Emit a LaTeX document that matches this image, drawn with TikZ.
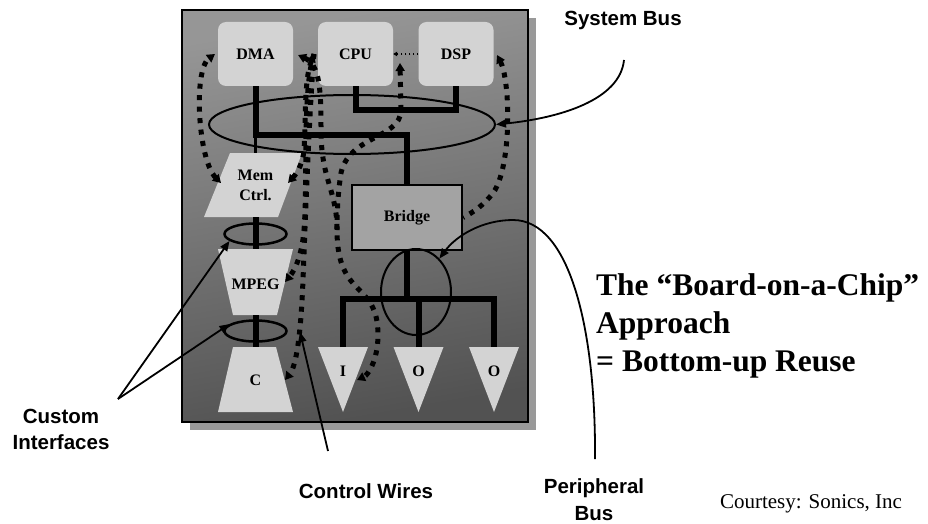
\documentclass[tikz,border=0pt]{standalone}
\usepackage{fontspec}
\newfontfamily\lsans{Liberation Sans}
\newfontfamily\lserif{Liberation Serif}
\usetikzlibrary{arrows.meta,shapes.geometric}
\definecolor{chipshadow}{RGB}{153,153,153}
\definecolor{chiptop}{RGB}{150,150,150}
\definecolor{chipmid}{RGB}{106,106,106}
\definecolor{chipbot}{RGB}{82,82,82}
\definecolor{blockfill}{RGB}{211,211,211}
\definecolor{bridgefill}{RGB}{163,163,163}
\tikzset{
  dt/.tip={Triangle[length=8pt,width=9pt]},
  nt/.tip={Triangle[length=10pt,width=8pt]},
  st/.tip={Triangle[length=4pt,width=4.5pt]}
}
\begin{document}
\begin{tikzpicture}[x=1pt,y=-1pt,
  lbl/.style={font=\lsans\bfseries\fontsize{20.5}{26}\selectfont, inner sep=0pt, align=center},
  blk/.style={fill=blockfill, inner sep=0pt, font=\lserif\bfseries\fontsize{16}{20}\selectfont},
  blktext/.style={inner sep=0pt, font=\lserif\bfseries\fontsize{16}{20}\selectfont, align=center},
  bus/.style={line width=6pt},
  ring/.style={draw, ellipse, line width=2pt, inner sep=0pt},
  ctrldot/.style={line width=5pt, dash pattern=on 5pt off 6.5pt},
  note/.style={line width=1.8pt, -nt}
]
\useasboundingbox (0,0) rectangle (928,524);

% chip
\fill[chipshadow] (190,18) rectangle (536,430);
\shade[top color=chiptop, middle color=chipmid, bottom color=chipbot, shading angle=10] (182,10) rectangle (528,422);
\draw[line width=2.5pt] (182,10) rectangle (528,422);

% top blocks
\node[blk, rounded corners=8pt, minimum width=75pt, minimum height=64pt] (dma) at (255.5,54) {DMA};
\node[blk, rounded corners=8pt, minimum width=75pt, minimum height=64pt] (cpu) at (355.5,54) {CPU};
\node[blk, rounded corners=8pt, minimum width=75pt, minimum height=64pt] (dsp) at (456,54) {DSP};

% bridge
\node[draw, line width=2pt, fill=bridgefill, minimum width=110pt, minimum height=65pt, inner sep=0pt,
      font=\lserif\bfseries\fontsize{16}{20}\selectfont] (bridge) at (407,217.5) {Bridge};

% system bus wires
\coordinate (memtop) at (255.5,153);
\draw[bus] (dma.south) -- ++(0,48.5) coordinate (sbj) -| (bridge.north);
\draw[line width=3pt] (sbj) -- (memtop);
\draw[bus] (cpu.south) -- ++(0,24) -| (dsp.south);
\node[ring, minimum width=286pt, minimum height=59pt] (sysbus) at (352,124.5) {};

% left column blocks
\fill[blockfill] (230,153) -- (302,153) -- (278,217) -- (204,217) -- cycle;
\node[blktext] (mem) at (255.5,185) {Mem\\Ctrl.};
\fill[blockfill] (218,249) -- (293,249) -- (277,315) -- (233,315) -- cycle;
\node[blktext] (mpeg) at (255.5,284) {MPEG};
\fill[blockfill] (233,347) -- (276,347) -- (293,412) -- (218,412) -- cycle;
\node[blktext] (cblk) at (255.5,380) {C};

% custom interfaces
\coordinate (memB) at (255.5,217);
\coordinate (mpegT) at (255.5,249);
\coordinate (mpegB) at (255.5,315);
\coordinate (cT) at (255.5,347);
\draw[bus] (memB) -- (mpegT);
\draw[bus] (mpegB) -- (cT);
\node[ring, line width=2.5pt, minimum width=62pt, minimum height=21pt] (ci1) at (255.5,234) {};
\node[ring, line width=2.5pt, minimum width=62pt, minimum height=21pt] (ci2) at (255.5,331) {};

% peripherals
\fill[blockfill] (318,347) -- (368,347) -- (343,412) -- cycle;
\fill[blockfill] (393.5,347) -- (443.5,347) -- (418.5,412) -- cycle;
\fill[blockfill] (469,347) -- (519,347) -- (494,412) -- cycle;
\node[blktext] (ti) at (343,371.7) {I};
\node[blktext] (to1) at (418.5,371.7) {O};
\node[blktext] (to2) at (494,371.7) {O};
\coordinate (iTop) at (343,347);
\coordinate (o1Top) at (418.5,347);
\coordinate (o2Top) at (494,347);
\coordinate (pj) at (407,299);
\draw[bus] (bridge.south) -- (pj);
\draw[bus] (iTop) |- (o2Top |- pj) -- (o2Top);
\draw[bus] (o1Top) -- (o1Top |- pj);
\node[ring, minimum width=70pt, minimum height=86pt] (pbus) at (416,292) {};

% dotted control / data paths
\coordinate (dmaW) at (215,54);
\coordinate (dmaE) at (298,55);
\coordinate (cpuW) at (314,54);
\coordinate (cpuE) at (400,63);
\coordinate (dspE) at (497,55);
\coordinate (memL) at (221,183);
\coordinate (memR) at (288,183);
\coordinate (mpegR) at (285,282);
\coordinate (cR) at (285,380);
\coordinate (iR) at (357,380);
\coordinate (mrg) at (337,230);

\draw[ctrldot, dt-dt] (memL) .. controls (198,160) and (193,70) .. (dmaW);
\draw[ctrldot, dt-dt] (dmaE) .. controls (320,65) and (321,90) .. (321,130)
   .. controls (321,180) and (337,190) .. (mrg)
   .. controls (337,300) and (378,280) .. (378,335)
   .. controls (378,360) and (368,375) .. (iR);
\draw[ctrldot, dt-] (cpuE) -- (401,110) .. controls (401,140) and (343,135) .. (340,180)
   .. controls (338,195) and (337,210) .. (mrg);
\draw[ctrldot, dt-dt] (cpuW) .. controls (304,80) and (306,120) .. (304,150)
   .. controls (303,162) and (298,172) .. (memR);
\draw[ctrldot, -dt] (cpuW) .. controls (302,90) and (308,180) .. (304,230)
   .. controls (302,255) and (295,270) .. (mpegR);
\draw[ctrldot, -dt] (cpuW) .. controls (310,100) and (306,200) .. (303,280)
   .. controls (301,330) and (297,365) .. (cR);
\draw[ctrldot, dt-] (dspE) .. controls (510,80) and (512,160) .. (495,190)
   .. controls (485,205) and (472,213) .. (bridge.east);
\draw[line width=1.5pt, dash pattern=on 1.5pt off 2.5pt, -st] (dsp.west) -- (cpu.east);

% annotations
\node[lbl, anchor=base] (sblbl) at (623,26) {System Bus};
\coordinate (sbstart) at (624,60);
\draw[note] (sbstart) .. controls (620,100) and (560,118) .. (sysbus.east);

\node[lbl] (pblbl) at (594,500) {Peripheral\\[1pt]Bus};
\coordinate (pbstart) at (595,459);
\draw[note] (pbstart) .. controls (596,330) and (570,220) .. (513,220)
   .. controls (482,220) and (456,236) .. (pbus.55);

\node[lbl] (cilbl) at (61,429.5) {Custom\\Interfaces};
\coordinate (cistart) at (118,399);
\draw[note] (cistart) -- (ci1.195);
\draw[note] (cistart) -- (ci2.165);

\node[lbl, anchor=base] (cwlbl) at (366,498) {Control Wires};
\coordinate (cwstart) at (328,451);
\coordinate (cwtip) at (300,332);
\draw[note] (cwstart) -- (cwtip);

\node[inner sep=0pt, anchor=west, align=left,
      font=\lserif\bfseries\fontsize{31.5}{38.3}\selectfont] (title) at (596,326)
      {The “Board-on-a-Chip”\\Approach\\= Bottom-up Reuse};
\node[inner sep=0pt, anchor=base, font=\lserif\fontsize{21}{25}\selectfont] (court) at (811,508)
      {Courtesy: Sonics, Inc};
\end{tikzpicture}
\end{document}
